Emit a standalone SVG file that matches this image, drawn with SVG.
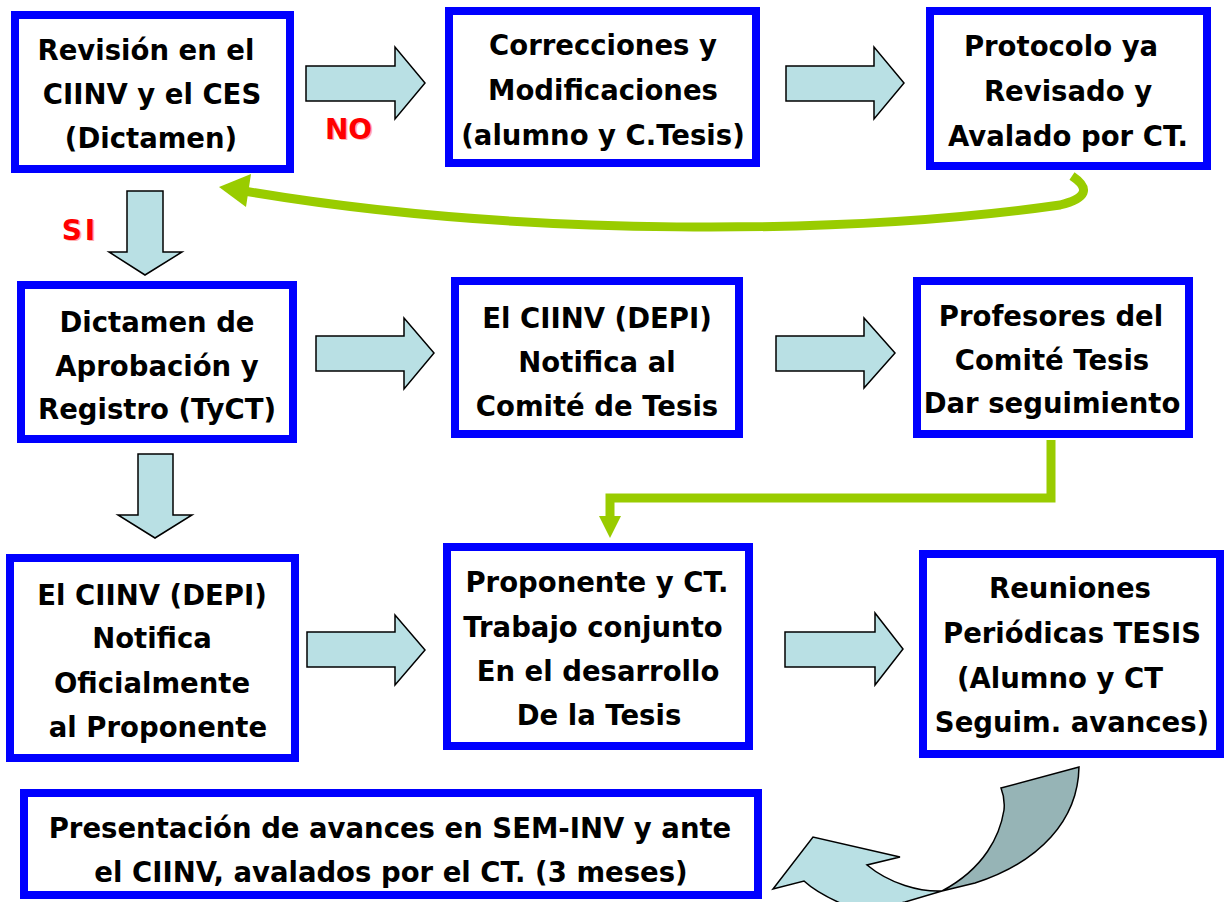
<svg xmlns="http://www.w3.org/2000/svg" width="1226" height="902" viewBox="0 0 1226 902">
<style>
.box{fill:#FFFFFF;stroke:#0000FF;stroke-width:8}
.t{font-family:"DejaVu Sans","Liberation Sans",sans-serif;font-weight:bold;font-size:27.5px;fill:#000000;text-anchor:middle}
.blk{fill:#B9E0E4;stroke:#000000;stroke-width:1.5;stroke-linejoin:miter}
.lbl{font-family:"DejaVu Sans","Liberation Sans",sans-serif;font-weight:bold;font-size:28px;fill:#FF0000;text-anchor:middle}
.lsh{font-family:"DejaVu Sans","Liberation Sans",sans-serif;font-weight:bold;font-size:28px;fill:#FFB0B0;text-anchor:middle}
.green{fill:none;stroke:#99CC00;stroke-width:9}
.gh{fill:#99CC00}
</style>
<rect width="1226" height="902" fill="#FFFFFF"/>

<g id="connectors">
  <!-- block arrows -->
  <polygon class="blk" points="306,66 395,66 395,47 425,83 395,119 395,101 306,101"/>
  <polygon class="blk" points="786,66 874,66 874,47 904,83 874,119 874,101 786,101"/>
  <polygon class="blk" points="127,191 163,191 163,252 182,252 145,275 109,252 127,252"/>
  <polygon class="blk" points="316,336 404,336 404,318 434,353 404,389 404,371 316,371"/>
  <polygon class="blk" points="776,336 864,336 864,318 895,353 864,388 864,371 776,371"/>
  <polygon class="blk" points="138,454 173,454 173,515 192,515 155,538 118,515 138,515"/>
  <polygon class="blk" points="307,632 395,632 395,615 425,650 395,685 395,667 307,667"/>
  <polygon class="blk" points="785,632 875,632 875,613 903,649 875,685 875,667 785,667"/>
  <!-- green feedback curve -->
  <path class="green" d="M1072,176 Q1100,195 1060,205 C850,235 520,238 244,191"/>
  <polygon class="gh" points="219,187 251,174 246,207"/>
  <!-- green elbow -->
  <path class="green" d="M1051,440 L1051,498 L610,498 L610,518" stroke-linejoin="miter"/>
  <polygon class="gh" points="599,516 621,516 610,538"/>
  <!-- curved 3D arrow -->
  <path fill="#B9E0E4" stroke="#000000" stroke-width="1.5" d="M942,891 C920,892 890,884 867,865 L900,857 L813,837 L773,889 L804,881 C818,894 838,903 862,912 L905,902 L942,891 Z"/>
  <path fill="#96B4B6" stroke="#000000" stroke-width="1.5" d="M1001,788 L1079,767 C1078,820 1040,862 975,883 L942,891 C985,868 1000,835 1004,810 C1005,800 1003,793 1001,788 Z"/>
</g>

<g id="label-no">
  <text class="lsh" x="350" y="140">NO</text>
  <text class="lbl" x="348.5" y="138.5">NO</text>
</g>
<g id="label-si">
  <text class="lsh" x="81.5" y="241" letter-spacing="3">SI</text>
  <text class="lbl" x="80" y="239.5" letter-spacing="3">SI</text>
</g>

<g id="n1">
  <rect class="box" x="15" y="15" width="275" height="154"/>
  <text class="t" x="146" y="60">Revisión en el</text>
  <text class="t" x="152" y="104">CIINV y el CES</text>
  <text class="t" x="151" y="148">(Dictamen)</text>
</g>
<g id="n2">
  <rect class="box" x="449" y="11" width="307" height="152"/>
  <text class="t" x="603" y="55">Correcciones y</text>
  <text class="t" x="603" y="100">Modificaciones</text>
  <text class="t" x="603" y="145">(alumno y C.Tesis)</text>
</g>
<g id="n3">
  <rect class="box" x="930" y="11" width="277" height="155"/>
  <text class="t" x="1061" y="56">Protocolo ya</text>
  <text class="t" x="1068" y="101">Revisado y</text>
  <text class="t" x="1068" y="146">Avalado por CT.</text>
</g>
<g id="n4">
  <rect class="box" x="21" y="285" width="272" height="154"/>
  <text class="t" x="157" y="332">Dictamen de</text>
  <text class="t" x="157" y="376">Aprobación y</text>
  <text class="t" x="157" y="419">Registro (TyCT)</text>
</g>
<g id="n5">
  <rect class="box" x="455" y="281" width="284" height="153"/>
  <text class="t" x="597" y="328">El CIINV (DEPI)</text>
  <text class="t" x="597" y="372">Notifica al</text>
  <text class="t" x="597" y="416">Comité de Tesis</text>
</g>
<g id="n6">
  <rect class="box" x="917" y="281" width="272" height="153"/>
  <text class="t" x="1051" y="326">Profesores del</text>
  <text class="t" x="1052" y="370">Comité Tesis</text>
  <text class="t" x="1052" y="413">Dar seguimiento</text>
</g>
<g id="n7">
  <rect class="box" x="10" y="558" width="285" height="200"/>
  <text class="t" x="152" y="605">El CIINV (DEPI)</text>
  <text class="t" x="152" y="648">Notifica</text>
  <text class="t" x="152" y="693">Oficialmente</text>
  <text class="t" x="158" y="737">al Proponente</text>
</g>
<g id="n8">
  <rect class="box" x="447" y="547" width="302" height="199"/>
  <text class="t" x="597" y="592">Proponente y CT.</text>
  <text class="t" x="593" y="637">Trabajo conjunto</text>
  <text class="t" x="598" y="681">En el desarrollo</text>
  <text class="t" x="599" y="725">De la Tesis</text>
</g>
<g id="n9">
  <rect class="box" x="923" y="554" width="297" height="200"/>
  <text class="t" x="1070" y="598">Reuniones</text>
  <text class="t" x="1072" y="643">Periódicas TESIS</text>
  <text class="t" x="1060" y="688">(Alumno y CT</text>
  <text class="t" x="1072" y="732">Seguim. avances)</text>
</g>
<g id="n10">
  <rect class="box" x="24" y="793" width="734" height="102"/>
  <text class="t" x="390" y="838">Presentación de avances en SEM-INV y ante</text>
  <text class="t" x="391" y="882">el CIINV, avalados por el CT. (3 meses)</text>
</g>
</svg>
